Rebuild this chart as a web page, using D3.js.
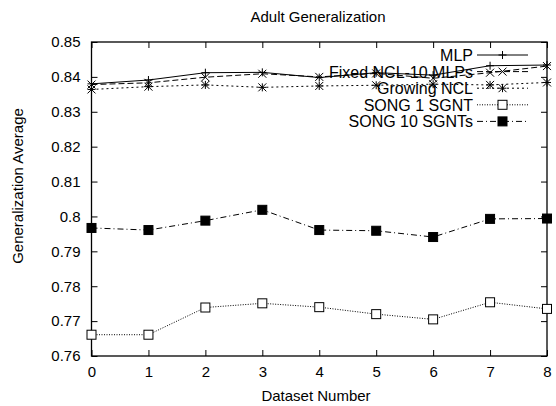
<!DOCTYPE html>
<html>
<head>
<meta charset="utf-8">
<script src="https://d3js.org/d3.v7.min.js"></script>
<style>
  body { margin: 0; background: #fff; }
  svg text { font-family: "Liberation Sans", Arial, sans-serif; fill: #000; }
</style>
</head>
<body>
<svg id="chart" width="556" height="406"></svg>
<script>
// data
const datasets = [0, 1, 2, 3, 4, 5, 6, 7, 8]
const mlp      = [0.8380, 0.8391, 0.8412, 0.8413, 0.8398, 0.8412, 0.8405, 0.8432, 0.8434]
const fixedNcl = [0.8378, 0.8383, 0.8399, 0.8409, 0.8400, 0.8410, 0.8396, 0.8412, 0.8431]
const growNcl  = [0.8364, 0.8372, 0.8377, 0.8370, 0.8374, 0.8376, 0.8379, 0.8377, 0.8384]
const song1    = [0.7661, 0.7661, 0.7739, 0.7751, 0.7740, 0.7720, 0.7705, 0.7754, 0.7735]
const song10   = [0.7967, 0.7961, 0.7988, 0.8019, 0.7961, 0.7959, 0.7941, 0.7993, 0.7994]
const yTicks = [0.76, 0.77, 0.78, 0.79, 0.8, 0.81, 0.82, 0.83, 0.84, 0.85]
const xTicks = [0, 1, 2, 3, 4, 5, 6, 7, 8]

const series = [
  { name: "MLP", values: mlp, dash: null, mark: "plus" },
  { name: "Fixed NCL-10 MLPs", values: fixedNcl, dash: "6,3", mark: "cross" },
  { name: "Growing NCL", values: growNcl, dash: "2,3", mark: "star" },
  { name: "SONG 1 SGNT", values: song1, dash: "1,1.5", mark: "box" },
  { name: "SONG 10 SGNTs", values: song10, dash: "6,3,1,3", mark: "fbox" }
]

const svg = d3.select("#chart")
const pLeft = 91.5, pRight = 547, pTop = 42, pBottom = 356

const x = d3.scaleLinear().domain([0, 8]).range([pLeft, pRight])
const y = d3.scaleLinear().domain([0.76, 0.85]).range([pBottom, pTop])

const fmt = d => String(+d.toFixed(2))

// axes, ticks pointing inward like gnuplot
const gl = svg.append("g").attr("transform", `translate(${pLeft},0)`)
  .call(d3.axisLeft(y).tickValues(yTicks).tickSize(-6).tickPadding(11).tickFormat(fmt))
const gr = svg.append("g").attr("transform", `translate(${pRight},0)`)
  .call(d3.axisRight(y).tickValues(yTicks).tickSize(-6).tickFormat(""))
const gb = svg.append("g").attr("transform", `translate(0,${pBottom})`)
  .call(d3.axisBottom(x).tickValues(xTicks).tickSize(-6).tickPadding(10).tickFormat(d3.format("d")))
const gt = svg.append("g").attr("transform", `translate(0,${pTop})`)
  .call(d3.axisTop(x).tickValues(xTicks).tickSize(-6).tickFormat(""))

;[gl, gr, gb, gt].forEach(g => {
  g.select(".domain").remove()
  g.selectAll(".tick line").attr("stroke", "#000")
  g.selectAll(".tick text").style("font-size", "15px")
    .style("font-family", "Liberation Sans, Arial, sans-serif")
})

svg.append("rect")
  .attr("x", pLeft).attr("y", pTop)
  .attr("width", pRight - pLeft).attr("height", pBottom - pTop)
  .attr("fill", "none").attr("stroke", "#000").attr("stroke-width", 1.3)

// titles
svg.append("text").attr("x", 318).attr("y", 22).attr("text-anchor", "middle")
  .style("font-size", "15px").text("Adult Generalization")
svg.append("text").attr("x", 316).attr("y", 401).attr("text-anchor", "middle")
  .style("font-size", "15px").text("Dataset Number")
svg.append("text").attr("transform", "translate(23,186) rotate(-90)").attr("text-anchor", "middle")
  .style("font-size", "15px").text("Generalization Average")

const drawMark = (g, type, cx, cy) => {
  const s = 4
  if (type === "plus" || type === "star") {
    g.append("path").attr("d", `M${cx - s},${cy}H${cx + s}M${cx},${cy - s}V${cy + s}`)
      .attr("stroke", "#000").attr("fill", "none")
  }
  if (type === "cross" || type === "star") {
    g.append("path").attr("d", `M${cx - s},${cy - s}L${cx + s},${cy + s}M${cx - s},${cy + s}L${cx + s},${cy - s}`)
      .attr("stroke", "#000").attr("fill", "none")
  }
  if (type === "box" || type === "fbox") {
    g.append("rect").attr("x", cx - 4.5).attr("y", cy - 4.5).attr("width", 9).attr("height", 9)
      .attr("fill", type === "fbox" ? "#000" : "#fff").attr("stroke", "#000")
  }
}

const line = d3.line().x((d, i) => x(datasets[i])).y(d => y(d))

// legend
const legX = 473, sampleX0 = 477, sampleX1 = 528
series.forEach((s, k) => {
  const ly = 55 + k * 16.6
  const g = svg.append("g")
  g.append("text").attr("x", legX).attr("y", ly + 6).attr("text-anchor", "end")
    .style("font-size", "16px").text(s.name)
  g.append("line").attr("x1", sampleX0).attr("x2", sampleX1).attr("y1", ly).attr("y2", ly)
    .attr("stroke", "#000").attr("stroke-width", 1)
    .attr("stroke-dasharray", s.dash)
  drawMark(g, s.mark, (sampleX0 + sampleX1) / 2, ly)
})

series.forEach(s => {
  const g = svg.append("g")
  g.append("path").datum(s.values).attr("d", line)
    .attr("fill", "none").attr("stroke", "#000").attr("stroke-width", 1)
    .attr("stroke-dasharray", s.dash)
  s.values.forEach((v, i) => drawMark(g, s.mark, x(datasets[i]), y(v)))
})
</script>
</body>
</html>
